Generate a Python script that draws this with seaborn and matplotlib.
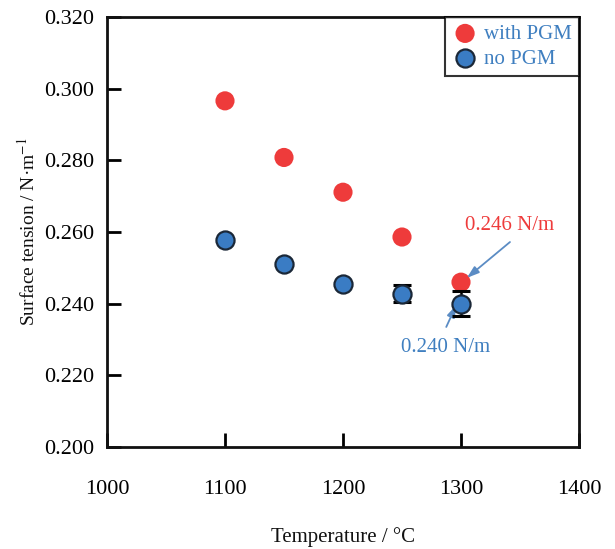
import matplotlib
matplotlib.use("Agg")
import matplotlib.pyplot as plt
import seaborn as sns
import pandas as pd

# Surface tension of the melt vs temperature
temperature = [1100, 1150, 1200, 1250, 1300]
with_pgm = [0.2966, 0.2808, 0.2711, 0.2586, 0.246]
no_pgm = [0.2578, 0.2511, 0.2454, 0.2428, 0.240]
no_pgm_err = [0.0, 0.0, 0.0, 0.0024, 0.0034]

x_ticks = [1000, 1100, 1200, 1300, 1400]
y_ticks = [0.200, 0.220, 0.240, 0.260, 0.280, 0.300, 0.320]

red = "#ee3b3b"
blue = "#3a7cc4"
edge = "#1b2838"
note_blue = "#3f7fc0"
arrow_col = "#5b8cc4"

df = pd.DataFrame({
    "temperature": temperature * 2,
    "tension": with_pgm + no_pgm,
    "err": [0.0] * len(temperature) + no_pgm_err,
    "series": ["with PGM"] * len(temperature) + ["no PGM"] * len(temperature),
})

sns.set_theme(style="white")
plt.rcParams["font.family"] = ["Liberation Serif", "DejaVu Serif"]
plt.rcParams["mathtext.fontset"] = "stix"

fig = plt.figure(figsize=(6.15, 5.49), dpi=100)
ax = fig.add_axes([107 / 615, 1 - 447 / 549, (579 - 107) / 615, (447 - 17) / 549])

sns.scatterplot(data=df[df.series == "with PGM"], x="temperature", y="tension",
                color=red, s=190, edgecolor="none", linewidth=0, ax=ax,
                label="with PGM", zorder=3)

# error bars only where a spread was measured
bars = df[(df.series == "no PGM") & (df.err > 0)]
ax.errorbar(bars.temperature, bars.tension, yerr=bars.err, fmt="none", ecolor="black",
            elinewidth=1.8, capsize=6.5, capthick=2.2, zorder=4)
sns.scatterplot(data=df[df.series == "no PGM"], x="temperature", y="tension",
                color=blue, s=170, edgecolor=edge, linewidth=1.6, ax=ax,
                label="no PGM", zorder=5)

ax.set_xlim(1000, 1400)
ax.set_ylim(0.200, 0.320)
ax.set_xticks(x_ticks)
ax.set_yticks(y_ticks)
ax.set_xticklabels([str(t) for t in x_ticks])
ax.set_yticklabels([f"{t:.3f}" for t in y_ticks])
ax.tick_params(axis="x", direction="in", length=10, width=2, pad=24,
               labelsize=16, colors="black", top=False, bottom=True)
ax.tick_params(axis="y", direction="in", length=10, width=2, pad=9,
               labelsize=16, colors="black", left=True, right=False)
for sp in ax.spines.values():
    sp.set_linewidth(2)
    sp.set_color("#111111")

ax.set_xlabel("Temperature / °C", fontsize=15, labelpad=20, color="#111111")
ax.set_ylabel("Surface tension / N·m$^{-1}$", fontsize=14, labelpad=4, color="#111111")

leg = ax.legend(loc="upper right", bbox_to_anchor=(1.0, 1.0), borderaxespad=0,
                frameon=True, fancybox=False, fontsize=15, handletextpad=0.3,
                borderpad=0.35, labelspacing=0.25, handlelength=1.2)
leg.get_frame().set_edgecolor("black")
leg.get_frame().set_linewidth(1.5)
for t in leg.get_texts():
    t.set_color(note_blue)

# value notes at 1300 °C
ax.text(1341, 0.2617, "0.246 N/m", color=red, fontsize=15, ha="center", va="center")
ax.annotate("", xy=(1305, 0.2472), xytext=(1341.5, 0.2572),
            arrowprops=dict(arrowstyle="-|>,head_length=0.6,head_width=0.2",
                            color=arrow_col, lw=1.3, shrinkA=0, shrinkB=0))
ax.text(1287, 0.2279, "0.240 N/m", color=note_blue, fontsize=15, ha="center", va="center")
ax.annotate("", xy=(1296, 0.2396), xytext=(1287.5, 0.2335),
            arrowprops=dict(arrowstyle="-|>,head_length=0.6,head_width=0.2",
                            color=arrow_col, lw=1.3, shrinkA=0, shrinkB=0))

fig.savefig("out.png", dpi=100, facecolor="white")
